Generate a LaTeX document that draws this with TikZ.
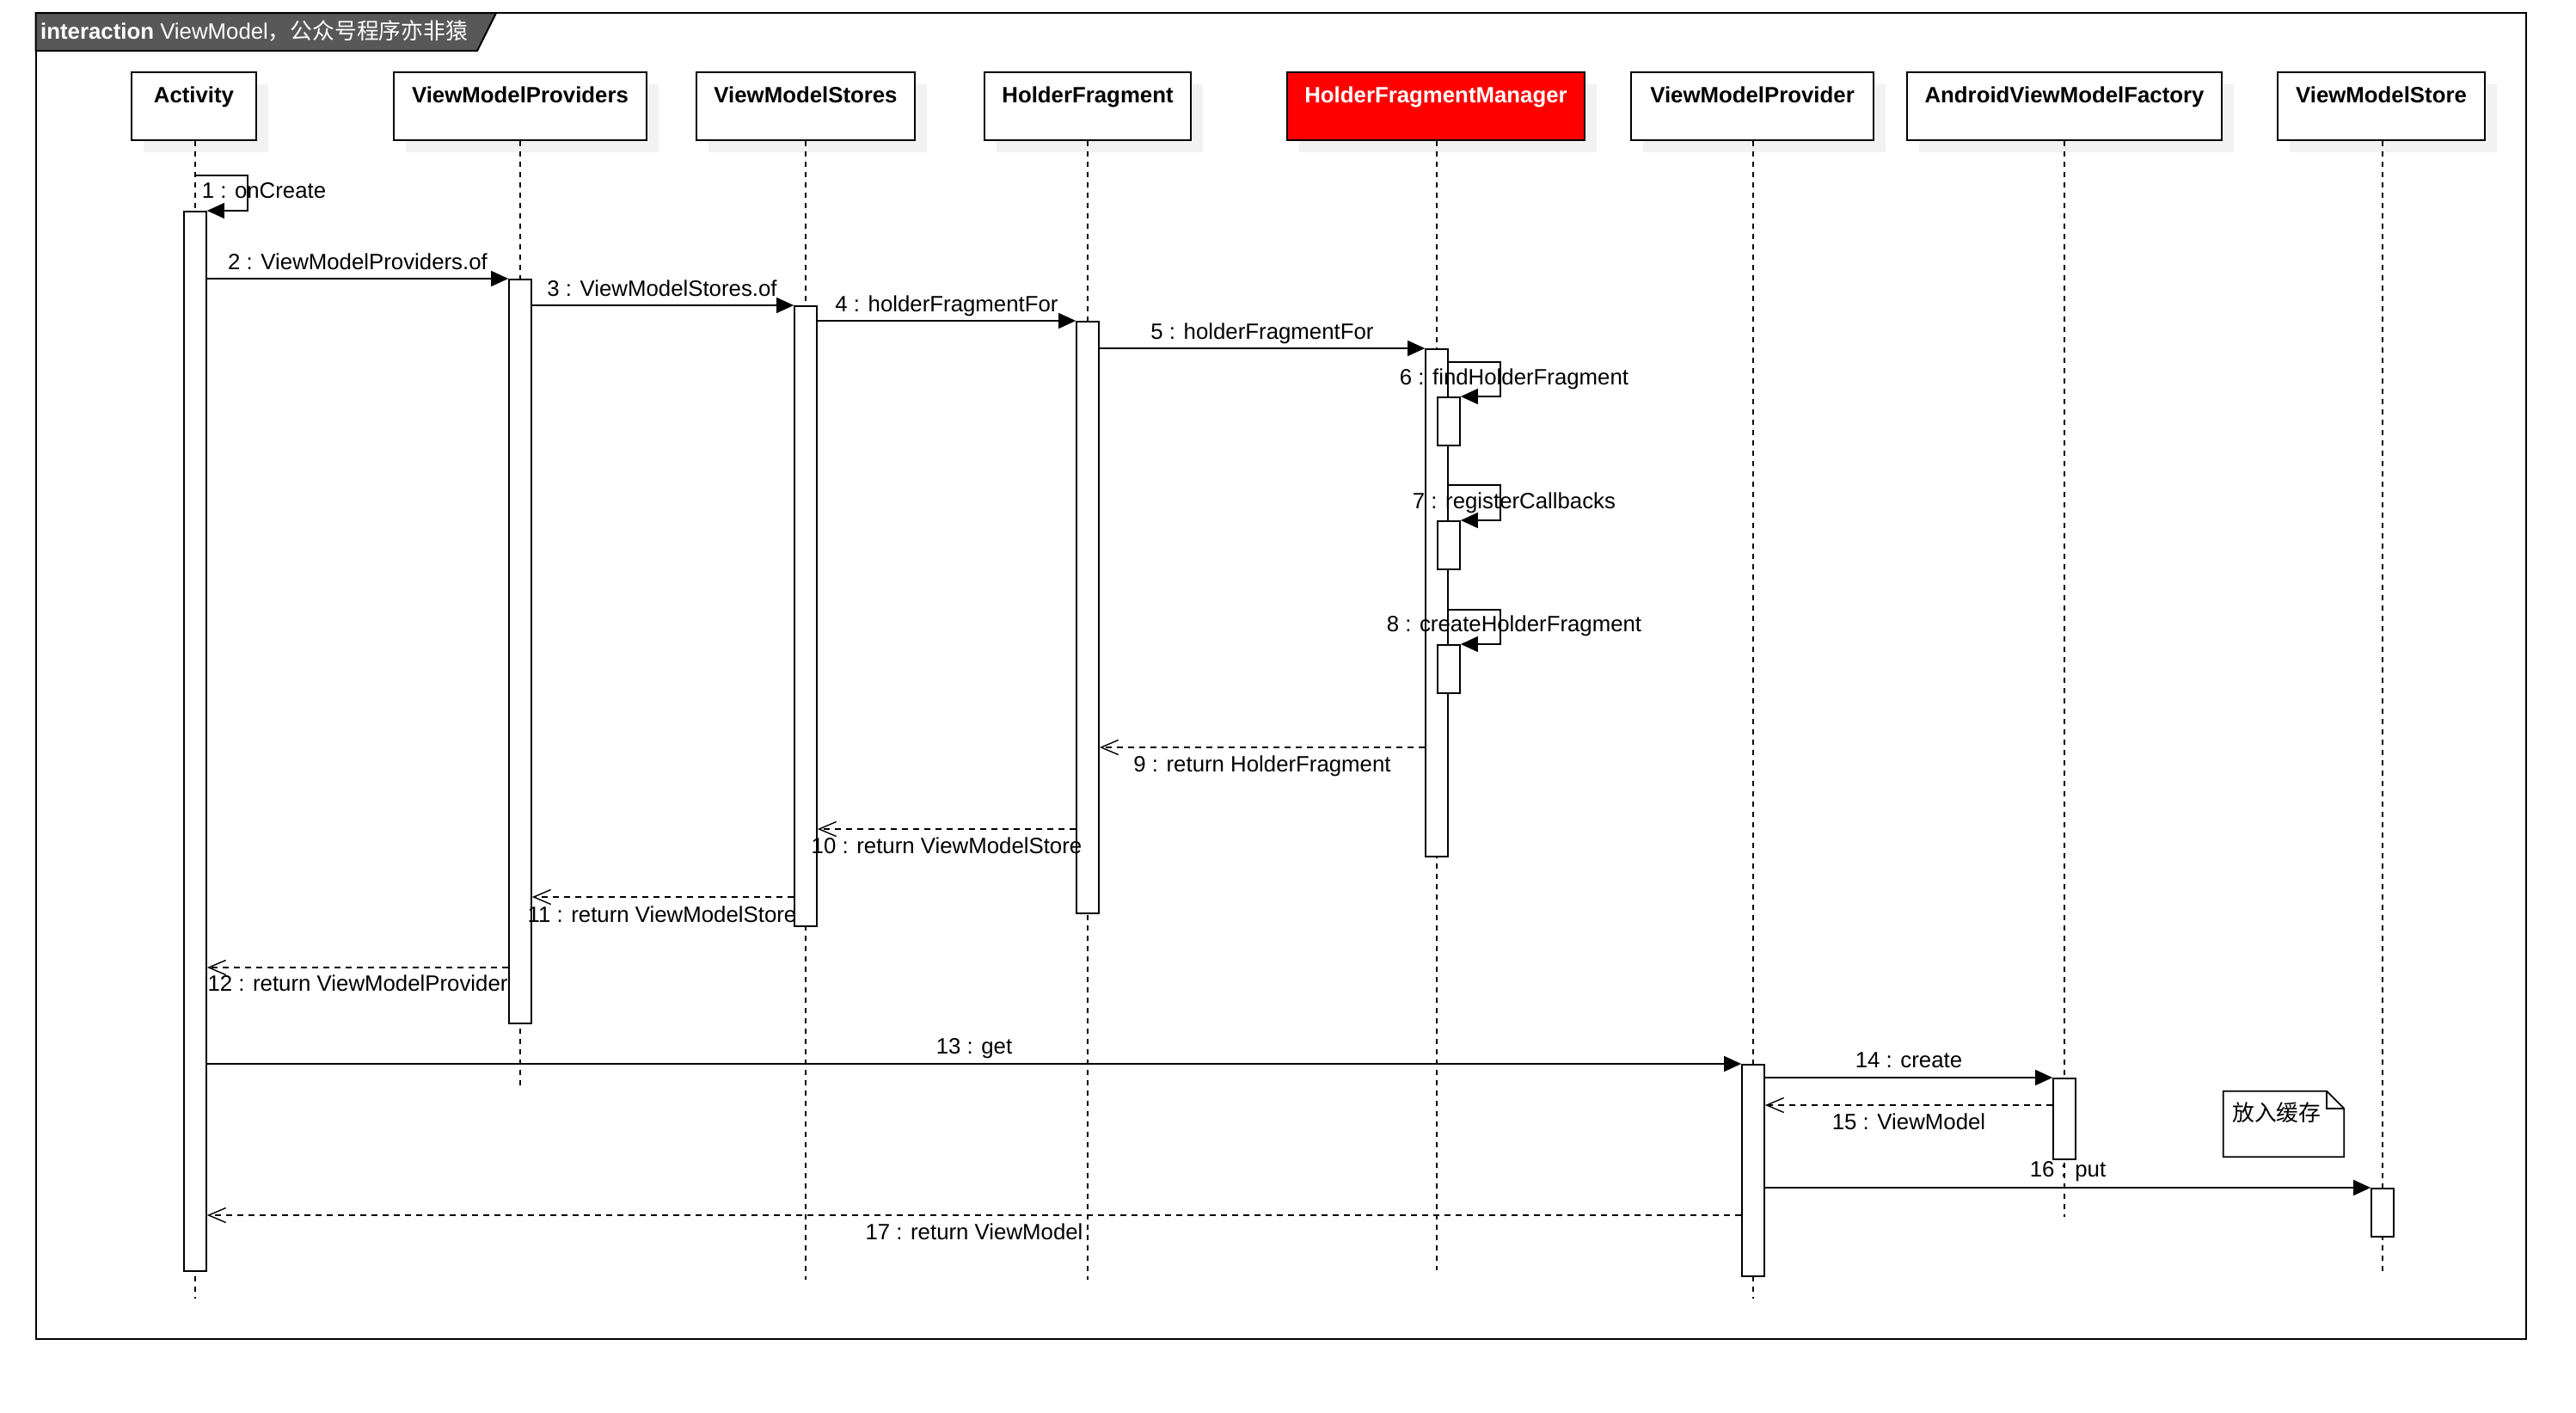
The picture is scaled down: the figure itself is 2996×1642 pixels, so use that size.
\documentclass[tikz,border=0pt]{standalone}
\usepackage{fontspec}
\setmainfont{Liberation Sans}
\newfontfamily\cjk{Noto Sans CJK SC}
\usetikzlibrary{arrows.meta,shadows}
\definecolor{bannergray}{RGB}{88,88,88}
\definecolor{shadowgray}{RGB}{242,242,242}
\definecolor{hfmred}{RGB}{255,0,0}
\newcommand\dfont{\fontsize{25.8}{31}\selectfont}
\begin{document}
\begin{tikzpicture}[x=1pt,y=-1pt,
  every node/.style={font=\dfont},
  pbox/.style={draw,line width=2pt,fill=white,minimum height=79pt,inner sep=0pt,
    drop shadow={shadow xshift=14pt,shadow yshift=-14pt,fill=shadowgray,opacity=1}},
  ptext/.style={anchor=base,inner sep=0pt,font=\dfont\bfseries},
  lifeline/.style={line width=1.3pt,dash pattern=on 6pt off 6pt},
  bar/.style={draw,line width=1.7pt,fill=white,minimum width=26pt,inner sep=0pt,anchor=north},
  call/.style={line width=1.4pt,-{Triangle[length=20pt,width=18pt]}},
  reply/.style={line width=1.4pt,dash pattern=on 7pt off 6pt,-{Straight Barb[length=20pt,width=17pt,line width=1.4pt]}},
  lbl/.style={anchor=base,inner sep=0pt}]
\useasboundingbox (0,0) rectangle (2996,1642);

% frame and banner
\node[draw=none,inner sep=0pt,minimum width=2896.3pt,minimum height=1542pt] (frame) at (1489.85,786) {};
\draw[line width=2pt] (frame.north west) rectangle (frame.south east);
\coordinate (bnA) at (41.7,15);
\coordinate (bnB) at (577,15);
\coordinate (bnC) at (555,59);
\coordinate (bnD) at (41.7,59);
\draw[line width=2pt,fill=bannergray] (bnA) -- (bnB) -- (bnC) -- (bnD) -- cycle;
\node[anchor=base west,inner sep=0pt,text=white] (title) at (47,45)
  {\textbf{interaction} ViewModel{\cjk ，公众号程序亦非猿}};

% participants
\node[pbox,minimum width=145pt] (pA) at (225.5,123.5) {};
\node[pbox,minimum width=294.5pt] (pP) at (605,123.5) {};
\node[pbox,minimum width=254pt] (pS) at (937,123.5) {};
\node[pbox,minimum width=240pt] (pH) at (1265,123.5) {};
\node[pbox,minimum width=345.5pt,fill=hfmred] (pM) at (1670,123.5) {};
\node[pbox,minimum width=281.5pt] (pV) at (2038,123.5) {};
\node[pbox,minimum width=366.5pt] (pF) at (2401,123.5) {};
\node[pbox,minimum width=241pt] (pT) at (2769.5,123.5) {};
\node[ptext] (tA) at (225.5,119) {Activity};
\node[ptext] (tP) at (605,119) {ViewModelProviders};
\node[ptext] (tS) at (937,119) {ViewModelStores};
\node[ptext] (tH) at (1265,119) {HolderFragment};
\node[ptext,text=white] (tM) at (1670,119) {HolderFragmentManager};
\node[ptext] (tV) at (2038,119) {ViewModelProvider};
\node[ptext] (tF) at (2401,119) {AndroidViewModelFactory};
\node[ptext] (tT) at (2769.5,119) {ViewModelStore};

% lifelines
\coordinate (eA) at (227,1510);
\coordinate (eP) at (605,1262);
\coordinate (eS) at (937,1488);
\coordinate (eH) at (1265,1488);
\coordinate (eM) at (1671,1477);
\coordinate (eV) at (2039,1510);
\coordinate (eF) at (2401,1415);
\coordinate (eT) at (2771,1479);
\foreach \p/\e in {pA/eA,pP/eP,pS/eS,pH/eH,pM/eM,pV/eV,pF/eF,pT/eT}
  \draw[lifeline] (\p.south -| \e) -- (\e);

% activation bars
\node[bar,minimum height=1232pt] (bA) at (227,245) {};
\node[bar,minimum height=865pt] (bP) at (605,324) {};
\node[bar,minimum height=721pt] (bS) at (937,355) {};
\node[bar,minimum height=688pt] (bH) at (1265,373) {};
\node[bar,minimum height=590pt] (bM) at (1671,405) {};
\node[bar,minimum height=56pt] (bM6) at (1685,461) {};
\node[bar,minimum height=56pt] (bM7) at (1685,605) {};
\node[bar,minimum height=56pt] (bM8) at (1685,749) {};
\node[bar,minimum height=246pt] (bV) at (2039,1237) {};
\node[bar,minimum height=94pt] (bF) at (2401,1253) {};
\node[bar,minimum height=56pt] (bT) at (2771,1381) {};

% message rows
\coordinate (y1) at (227,204);
\coordinate (y3) at (0,355);
\coordinate (y4) at (0,373);
\coordinate (y6) at (0,421);
\coordinate (y7) at (0,564);
\coordinate (y8) at (0,709);
\coordinate (y9) at (0,869);
\coordinate (y10) at (0,964);
\coordinate (y11) at (0,1043);
\coordinate (y12) at (0,1125);
\coordinate (y15) at (0,1285);
\coordinate (y17) at (0,1413);

% messages
\draw[call] (y1) -- ++(61,0) |- (bA.north east);
\draw[call] (bA.east |- bP.north) -- (bP.north west);
\draw[call] (bP.east |- y3) -- (bS.north west);
\draw[call] (bS.east |- y4) -- (bH.north west);
\draw[call] (bH.east |- bM.north) -- (bM.north west);
\draw[call] (bM.east |- y6) -- ++(60,0) |- (bM6.north east);
\draw[call] (bM.east |- y7) -- ++(60,0) |- (bM7.north east);
\draw[call] (bM.east |- y8) -- ++(60,0) |- (bM8.north east);
\draw[reply] (bM.west |- y9) -- (bH.east |- y9);
\draw[reply] (bH.west |- y10) -- (bS.east |- y10);
\draw[reply] (bS.west |- y11) -- (bP.east |- y11);
\draw[reply] (bP.west |- y12) -- (bA.east |- y12);
\draw[call] (bA.east |- bV.north) -- (bV.north west);
\draw[call] (bV.east |- bF.north) -- (bF.north west);
\draw[reply] (bF.west |- y15) -- (bV.east |- y15);
\draw[call] (bV.east |- bT.north) -- (bT.north west);
\draw[reply] (bV.west |- y17) -- (bA.east |- y17);

% message labels
\node[lbl] (l1) at (307,230) {1 : onCreate};
\node[lbl] (l2) at (416,313) {2 : ViewModelProviders.of};
\node[lbl] (l3) at (770,344) {3 : ViewModelStores.of};
\node[lbl] (l4) at (1101,362) {4 : holderFragmentFor};
\node[lbl] (l5) at (1468,394) {5 : holderFragmentFor};
\node[lbl] (l6) at (1761,447) {6 : findHolderFragment};
\node[lbl] (l7) at (1761,591) {7 : registerCallbacks};
\node[lbl] (l8) at (1761,734) {8 : createHolderFragment};
\node[lbl] (l9) at (1468,897) {9 : return HolderFragment};
\node[lbl] (l10) at (1101,992) {10 : return ViewModelStore};
\node[lbl] (l11) at (770,1072) {11 : return ViewModelStore};
\node[lbl] (l12) at (416,1152) {12 : return ViewModelProvider};
\node[lbl] (l13) at (1133,1225) {13 : get};
\node[lbl] (l14) at (2220,1241) {14 : create};
\node[lbl] (l15) at (2220,1313) {15 : ViewModel};
\node[lbl] (l16) at (2405,1368) {16 : put};
\node[lbl] (l17) at (1133,1441) {17 : return ViewModel};

% note
\node[inner sep=0pt,minimum width=140pt,minimum height=76pt] (note) at (2656,1307) {};
\draw[line width=1.7pt,fill=white] (note.north west) -- ([xshift=-20pt]note.north east)
  -- ([yshift=-20pt]note.north east) -- (note.south east) -- (note.south west) -- cycle;
\draw[line width=1.7pt] ([xshift=-20pt]note.north east) |- ([yshift=-20pt]note.north east);
\node[anchor=base west,inner sep=0pt] (notetext) at (2596,1303) {\cjk 放入缓存};
\end{tikzpicture}
\end{document}
